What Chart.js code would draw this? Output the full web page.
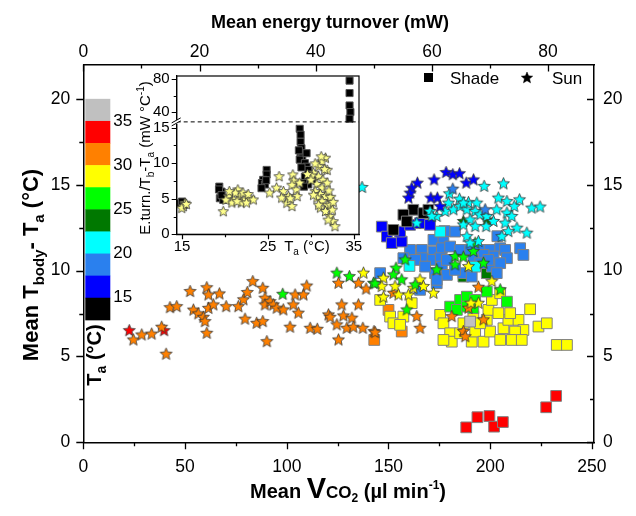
<!DOCTYPE html>
<html>
<head>
<meta charset="utf-8">
<script src="https://cdn.jsdelivr.net/npm/chart.js@4.4.0/dist/chart.umd.min.js"></script>
<style>
  html, body { margin: 0; padding: 0; background: #fff; }
  #wrap { position: relative; width: 636px; height: 516px; }
  #wrap canvas { position: absolute; left: 0; top: 0; }
</style>
</head>
<body>
<div id="wrap">
  <canvas id="main" width="636" height="516"></canvas>
  <canvas id="inset" width="636" height="516"></canvas>
</div>
<script>
// ---------- DATA (x = mean VCO2, y = mean Tbody - Ta) ----------
const sunRed = [[22.6,6.5],[39.7,6.5]];
const sunOrange = [[24.6,5.96],[28.7,6.25],[33.6,6.3],[38.5,6.7],[40.7,5.13],[42.6,7.84],[45.9,7.9],[52.5,8.78],[54.1,7.7],[56.5,7.48],
  [59,7.28],[59.8,7.03],[60.7,9.0],[61.5,8.58],[61.5,7.8],[60.7,6.35],[63.9,8.0],[66.9,8.64],[70.2,7.9],[76.2,7.9],[79.5,7.17],
  [78.7,8.3],[80.6,8.72],[83.3,9.36],[88.2,8.97],[85.2,6.93],[88.2,7.03],[89.3,8.39],[89.3,8.0],[90.2,5.86],[91.8,8.19],[93.4,8.0],
  [95.1,7.81],[98.3,7.71],[101.6,6.7],[103.2,8.0],[104.1,8.58],[105.7,7.52],[108.2,8.58],[109.8,9.1],[111.5,6.64],[115,6.58],
  [120.5,7.42],[121.3,7.28],[125.4,9.26],[124.6,6.84],[125.4,5.96],[127,8.0],[127.8,7.36],[129.5,6.64],[132,7.23],[132.7,6.7],
  [135.2,9.26],[135.2,8.0],[137.4,6.64],[139,8.92],[142.9,6.45],[152.4,8.68],[194.2,9.03],[189.3,7.81],[181.1,7.32],[163.9,7.32],
  [165.5,6.64],[196.7,7.13],[186.8,6.45],[187.7,6.15],[143.4,6.39]];
const sunYellow = [[137.7,9.85],[147.5,9.56],[146.7,9.07],[153.2,9.07],[154.9,8.58],[159.8,8.58],[165.5,9.46],[167.2,9.07],
  [147.5,8.45],[172.1,8.68],[189.3,10.23],[200.8,9.36],[194.2,8.1],[162.2,8.97],[190.5,8.1]];
const sunGreen = [[98,8.62],[124.6,9.85],[130.8,9.65],[142.6,9.26],[158.2,10.62],[153.7,10.14],[152.4,9.75],[156.5,9.46],
  [143.4,9.23],[173.7,10.04],[182.7,10.82],[186.8,10.78],[191.7,11.11],[192.6,11.6],[182.7,10.33],[196.7,10.43],[204.9,8.88],
  [159,7.71],[163.1,9.17]];
const sunDkGreen = [[186.8,12.86],[198.3,12.95]];
const sunCyan = [[137,14.84],[179.9,14.47],[179.5,13.93],[184.9,14.16],[189.3,13.96],[193.4,13.93],[197,14.9],[206.5,15.05],
  [208.2,14.02],[204,14.22],[214.4,14.12],[211.8,13.73],[220.4,13.64],[224.5,13.7],[170.4,13.44],[173.7,13.15],[177.8,13.44],
  [181.9,13.54],[185.2,13.73],[188.5,13.54],[192.6,13.44],[195,13.25],[198.3,13.15],[201.6,12.86],[203.2,13.54],[208.2,13.35],
  [210.6,13.15],[207.3,12.76],[213.1,12.47],[218,12.18],[208.9,12.27],[205.7,11.98],[190.1,12.95],[192.6,12.56],[198,12.56],
  [186.8,12.66],[188.5,11.98],[194.2,11.69],[190.1,11.6],[163.9,12.76],[171.3,13.15],[186.8,13.93]];
const sunLtBlue = [[181.6,14.74],[197.5,13.54]];
const sunBlue = [[178.3,15.71],[181.6,15.58],[184.9,15.64],[188.2,15.09],[191.8,15.28],[172.4,15.28],[164.2,15.09],[161.4,14.8],
  [160.6,14.51],[159.8,14.22],[170.8,14.22],[174,14.22],[175.4,13.73]];

const shadeBlack = [[162.2,13.54],[157.3,13.25],[159,12.86],[152.4,12.37],[167.2,13.35],[169.6,13.54]];
const shadeBlue = [[146.7,12.56],[149.2,11.98],[151.6,11.6],[156.5,11.69],[155.7,12.27],[160.6,12.66],[165.5,12.76],[170.4,12.66]];
const shadeLtBlue = [[160.6,11.2],[166.4,11.2],[157.3,10.72],[145.9,9.85],[172.1,11.79],[177,11.79],[182.7,12.27],[172.1,11.11],
  [176.2,11.3],[180.3,11.4],[185.2,11.2],[190.1,11.2],[195,11.2],[199.9,11.2],[204.9,11.3],[207.3,11.2],[214.7,11.3],[216.3,10.91],
  [208.2,10.72],[201.6,10.82],[196.7,10.91],[175.4,10.72],[170.4,10.62],[176.2,10.23],[172.9,9.85],[173.7,9.26],[178.7,9.75],
  [186.8,9.85],[190.9,9.65],[182.7,10.04],[200.8,10.23],[199.1,10.62],[204.9,10.43],[191.7,10.62],[166.4,10.72],[163.1,10.62],
  [168,10.23],[178.7,10.62],[195,10.43],[203.2,9.85],[173.7,9.46],[165.5,8.88],[203.5,12.0],[177.5,12.3]];
const shadeCyan = [[175.4,12.27],[160.3,10.27],[192.6,10.23]];
const shadeDkGreen = [[198.3,9.85],[186.8,9.65]];
const shadeGreen = [[180.3,7.9],[185.2,8.29],[188.5,8.48],[183.6,7.71],[188.5,7.9],[191.7,7.81],[192.6,8.29],[208.2,8.19],[198.3,8.78]];
const shadeYellow = [[145.9,8.29],[150.8,7.32],[152.4,6.93],[157.3,7.32],[161.4,8.1],[155.7,6.84],[175.4,7.42],[177,6.93],
  [180.3,6.35],[181.1,5.86],[185.2,6.35],[190.9,5.86],[192.6,6.45],[196.7,5.86],[198.3,7.13],[199.1,7.71],[200.8,8.29],
  [199.9,6.45],[204.9,5.96],[206.5,6.64],[208.9,7.13],[213.9,7.13],[216.3,6.54],[212.2,6.45],[210.6,5.96],[215.5,5.96],
  [219.6,7.75],[223.7,6.74],[227.8,6.93],[232.7,5.67],[237.7,5.67],[204,7.52],[204.9,8.68],[191.7,7.32],[186.8,6.93],
  [195,6.93],[209.8,7.52],[177,5.96]];
const shadeOrange = [[150,7.71],[156.5,6.45],[143,5.96]];
const shadeRed = [[188.2,0.87],[193.7,1.46],[199.6,1.53],[201.9,0.91],[206.2,1.18],[227.5,2.04],[232.4,2.7]];
const shadeGray = [[190.1,7.03]];

// inset: x = Ta (°C), y = E.turn./(Tb-Ta)
const insetShade = [[14.8,4.37],[15.0,4.6],[15.2,4.1],
  [19.34,6.7],[19.6,6.0],[19.4,5.07],[19.8,4.83],[19.3,6.3],[19.6,5.5],
  [24.85,9.05],[24.85,8.4],[24.45,7.65],[24.3,7.2],[24.65,7.0],[24.25,6.48],[24.8,7.6],
  [28.7,14.83],[28.8,14.0],[28.8,13.0],[28.9,12.1],[28.8,11.2],[29.0,10.8],[28.7,10.5],[29.3,10.0],[29.5,9.5],[29.7,9.05],
  [29.9,8.4],[29.3,8.1],[30.1,7.65],[29.7,7.0],[29.1,7.2],[29.2,6.7],[28.9,9.4],[29.5,11.4],[28.6,11.8],
  [34.5,78],[34.5,63],[34.5,48],[34.6,40],[34.5,32]];
const insetSun = [[15.35,4.37],[15.15,3.9],[14.97,3.66],[15.5,4.2],
  [19.8,3.18],[20.4,5.3],[21,4.83],[21.5,6.24],[21.7,5.3],[22.3,4.83],[22.9,5.07],[21.2,5.8],[21.9,4.4],[20.8,4.4],[21.4,4.6],
  [22.5,4.4],[22.1,5.8],[22.7,5.6],[23.3,4.83],[20.1,4.8],[20.5,6.0],
  [26.3,8.1],[25.2,5.8],[26.0,6.5],[26.8,6.0],[27.4,5.3],[27.2,4.37],[27.8,3.9],[27.9,8.35],[28,7.5],[27.8,6.9],[28.3,6.24],
  [28.4,5.3],[26.6,5.1],[27.6,5.0],[28.7,7.2],
  [31.7,10.7],[31.3,10.2],[30.9,9.5],[31.9,9.0],[30.3,8.6],[30.9,8.1],[31.4,7.6],[30.7,7.0],[31.3,6.5],[31.9,7.2],[30.5,6.0],
  [31.1,5.6],[31.7,5.3],[30.7,5.1],[31.3,4.6],[31.9,4.1],[31.1,3.7],[31.7,3.2],[32.2,2.5],[32.6,1.78],[32.0,2.0],[32.8,1.07],
  [32.3,4.1],[32.5,3.4],[30.1,8.2],[29.6,8.4],[30.0,7.6],[30.5,9.9],[31.2,10.9],[31.6,9.1],[32.3,5.2],[32.6,4.5],[32.1,6.1],
  [30.3,5.5],[30.9,4.1]];

// ticks
const xTicks = [0, 50, 100, 150, 200, 250], xMinor = [25, 75, 125, 175, 225];
const x2Ticks = [0, 20, 40, 60, 80], x2Minor = [10, 30, 50, 70];
const yTicks = [0, 5, 10, 15, 20], yMinor = [2.5, 7.5, 12.5, 17.5];
const insetXTicks = [15, 25, 35], insetXMinor = [20, 30];
const insetYTicks = [0, 5, 10, 15, 40, 80], insetYMinor = [2.5, 7.5, 12.5, 60];

// colour bar (top to bottom) and its labels
const barColors = ['#c0c0c0','#ff0000','#ff8000','#ffff00','#00ff00','#007800','#00ffff','#2a80ee','#0000ff','#000000'];
const barLabels = ['35', '30', '25', '20', '15'];

const C = { black:'#000000', blue:'#0000ff', ltblue:'#2a80ee', cyan:'#00ffff', dkgreen:'#007800',
            green:'#00ff00', yellow:'#ffff00', orange:'#ff8000', red:'#ff0000', gray:'#c0c0c0' };
const FONT = '"Liberation Sans", Arial, sans-serif';

// ---------- helpers ----------
function starImg(fill, r, stroke, lw) {
  const c = document.createElement('canvas');
  const s = Math.ceil(2 * r + 2);
  c.width = c.height = s;
  const g = c.getContext('2d');
  g.beginPath();
  for (let i = 0; i < 10; i++) {
    const rr = i % 2 ? r * 0.45 : r;
    const a = -Math.PI / 2 + i * Math.PI / 5;
    g.lineTo(s / 2 + rr * Math.cos(a), s / 2 + rr * Math.sin(a));
  }
  g.closePath();
  g.fillStyle = fill; g.fill();
  g.lineWidth = lw; g.strokeStyle = stroke; g.stroke();
  return c;
}
const pts = arr => arr.map(p => ({ x: p[0], y: p[1] }));

// rich text: parts = [text, size, dy, bold]
function rich(ctx, parts, x, y, rot) {
  ctx.save();
  ctx.translate(x, y); ctx.rotate(rot || 0);
  ctx.textAlign = 'left'; ctx.textBaseline = 'alphabetic'; ctx.fillStyle = '#000';
  let w = 0;
  const ws = parts.map(p => { ctx.font = (p[3] ? 'bold ' : '') + p[1] + 'px ' + FONT; const m = ctx.measureText(p[0]).width; w += m; return m; });
  let cx = -w / 2;
  parts.forEach((p, i) => { ctx.font = (p[3] ? 'bold ' : '') + p[1] + 'px ' + FONT; ctx.fillText(p[0], cx, p[2]); cx += ws[i]; });
  ctx.restore();
}
function tickLines(ctx, scale, vals, len, side) {
  ctx.beginPath();
  vals.forEach(v => {
    const p = Math.round(scale.getPixelForValue(v)) + 0.5;
    if (side === 'bottom') { ctx.moveTo(p, scale.top); ctx.lineTo(p, scale.top + len); }
    if (side === 'top') { ctx.moveTo(p, scale.bottom); ctx.lineTo(p, scale.bottom + len); }
    if (side === 'left') { ctx.moveTo(scale.right - len, p); ctx.lineTo(scale.right, p); }
    if (side === 'right') { ctx.moveTo(scale.left - len, p); ctx.lineTo(scale.left, p); }
  });
  ctx.stroke();
}

// ---------- MAIN CHART ----------
const sunSets = [
  [sunBlue, C.blue], [sunLtBlue, C.ltblue], [sunCyan, C.cyan], [sunDkGreen, C.dkgreen], [sunGreen, C.green],
  [sunYellow, C.yellow], [sunOrange, C.orange], [sunRed, C.red]
].map(([d, col]) => ({ data: pts(d), pointStyle: starImg(col, 6.3, '#333', 0.8), pointRadius: 6 }));
const shadeSets = [
  [shadeBlack, C.black], [shadeBlue, C.blue], [shadeCyan, C.cyan], [shadeLtBlue, C.ltblue], [shadeDkGreen, C.dkgreen],
  [shadeGreen, C.green], [shadeGray, C.gray], [shadeYellow, C.yellow], [shadeOrange, C.orange], [shadeRed, C.red]
].map(([d, col]) => ({ data: pts(d), pointStyle: 'rect', pointRadius: 7.6, backgroundColor: col, borderColor: '#808080', borderWidth: 1 }));

const tickFont = { family: FONT, size: 17.5 };
const noGrid = { display: false, drawTicks: false };
const frame = { display: true, color: '#000', width: 1.5 };

const mainDecor = {
  id: 'mainDecor',
  afterDraw(chart) {
    const ctx = chart.ctx, s = chart.scales, a = chart.chartArea;
    ctx.save();
    ctx.strokeStyle = '#000'; ctx.lineWidth = 1.3;
    tickLines(ctx, s.x, xTicks, 7, 'bottom'); tickLines(ctx, s.x, xMinor, 4, 'bottom');
    tickLines(ctx, s.y, yTicks, 7, 'left'); tickLines(ctx, s.y, yMinor, 4, 'left');
    tickLines(ctx, s.x2, x2Ticks, 7, 'top'); tickLines(ctx, s.x2, x2Minor, 4, 'top');
    tickLines(ctx, s.y2, yTicks, 7, 'right'); tickLines(ctx, s.y2, yMinor, 4, 'right');

    // colour bar
    const top = s.y.getPixelForValue(20), bh = 22.1, bx = a.left + 2;
    barColors.forEach((c, i) => { ctx.fillStyle = c; ctx.fillRect(bx, top + i * bh, 25, bh + 0.5); });
    ctx.fillStyle = '#000'; ctx.font = '17px ' + FONT; ctx.textAlign = 'left'; ctx.textBaseline = 'middle';
    barLabels.forEach((t, i) => ctx.fillText(t, bx + 28, top + (2 * i + 1) * bh));
    rich(ctx, [['T', 20, 0, 1], ['a', 14, 5, 1], [' (°C)', 20, 0, 1]], 101, 355, -Math.PI / 2);

    // legend
    ctx.fillStyle = '#000'; ctx.fillRect(424, 73, 9, 9);
    ctx.drawImage(starImg('#000', 6, '#000', 0.5), 520, 71);
    ctx.font = '17px ' + FONT; ctx.textBaseline = 'middle';
    ctx.fillText('Shade', 450, 79); ctx.fillText('Sun', 552, 79);

    // axis titles
    rich(ctx, [['Mean energy turnover (mW)', 18, 0, 1]], 330, 28);
    rich(ctx, [['Mean T', 22, 0, 1], ['body', 15, 6, 1], ['- T', 22, 0, 1], ['a', 15, 6, 1], [' (°C)', 22, 0, 1]], 38, 265, -Math.PI / 2);
    rich(ctx, [['Mean ', 20, 0, 1], ['V', 29, 0, 1], ['CO', 17, 0, 1], ['2', 12, 4, 1], [' (µl min', 20, 0, 1], ['-1', 12, -9, 1], [')', 20, 0, 1]], 348, 498);
    ctx.restore();
  }
};

new Chart(document.getElementById('main'), {
  type: 'scatter',
  data: { datasets: [...sunSets, ...shadeSets] },
  options: {
    responsive: false, animation: false, events: [],
    layout: { padding: 0 },
    plugins: { legend: { display: false }, tooltip: { enabled: false } },
    scales: {
      x: { type: 'linear', position: 'bottom', min: 0, max: 251, grid: noGrid, border: frame,
           afterBuildTicks: sc => { sc.ticks = xTicks.map(v => ({ value: v })); },
           afterFit: sc => { sc.height = 73.7; },
           ticks: { font: tickFont, color: '#000', padding: 14, maxRotation: 0, autoSkip: false } },
      x2: { type: 'linear', position: 'top', min: 0, max: 87.9, grid: noGrid, border: frame,
           afterBuildTicks: sc => { sc.ticks = x2Ticks.map(v => ({ value: v })); },
           afterFit: sc => { sc.height = 64.5; },
           ticks: { font: tickFont, color: '#000', padding: 2, maxRotation: 0, autoSkip: false } },
      y: { type: 'linear', position: 'left', min: 0, max: 22, grid: noGrid, border: frame,
           afterBuildTicks: sc => { sc.ticks = yTicks.map(v => ({ value: v })); },
           afterFit: sc => { sc.width = 83.3; },
           ticks: { font: tickFont, color: '#000', padding: 13, autoSkip: false } },
      y2: { type: 'linear', position: 'right', min: 0, max: 22, grid: noGrid, border: frame,
           afterBuildTicks: sc => { sc.ticks = yTicks.map(v => ({ value: v })); },
           afterFit: sc => { sc.width = 42; },
           ticks: { font: tickFont, color: '#000', padding: 9, autoSkip: false } }
    }
  },
  plugins: [mainDecor]
});

// ---------- INSET (broken y axis) ----------
const BREAK = 15.8;
const brk = v => v <= BREAK ? v : 17.18 + (v - 40) * 0.11625;
const insetPts = arr => arr.map(p => ({ x: p[0], y: brk(p[1]) }));

const insetDecor = {
  id: 'insetDecor',
  beforeDraw(chart) {
    const a = chart.chartArea, ctx = chart.ctx;
    ctx.save(); ctx.fillStyle = '#fff'; ctx.fillRect(a.left, a.top, a.right - a.left, a.bottom - a.top); ctx.restore();
  },
  afterDraw(chart) {
    const ctx = chart.ctx, s = chart.scales, a = chart.chartArea;
    ctx.save();
    ctx.strokeStyle = '#000'; ctx.lineWidth = 1.2;
    ctx.strokeRect(a.left, a.top, a.right - a.left, a.bottom - a.top);
    tickLines(ctx, s.x, insetXTicks, 5, 'bottom'); tickLines(ctx, s.x, insetXMinor, 3, 'bottom');
    tickLines(ctx, s.y, insetYTicks.map(brk), 5, 'left'); tickLines(ctx, s.y, insetYMinor.map(brk), 3, 'left');
    // break line
    const by = s.y.getPixelForValue(BREAK);
    ctx.setLineDash([4, 3]); ctx.lineWidth = 1;
    ctx.beginPath(); ctx.moveTo(a.left, by); ctx.lineTo(a.right, by); ctx.stroke();
    ctx.setLineDash([]);
    ctx.fillStyle = '#fff'; ctx.fillRect(a.left - 2, by - 2, 4, 4);
    ctx.beginPath();
    ctx.moveTo(a.left - 5, by + 1); ctx.lineTo(a.left + 4, by - 4);
    ctx.moveTo(a.left - 5, by + 4); ctx.lineTo(a.left + 4, by - 1);
    ctx.stroke();
    // titles
    rich(ctx, [['T', 15, 0, 0], ['a', 10, 4, 0], [' (°C)', 15, 0, 0]], 307, 251);
    rich(ctx, [['E.turn./T', 15, 0, 0], ['b', 10, 4, 0], ['-T', 15, 0, 0], ['a', 10, 4, 0], [' (mW °C', 15, 0, 0], ['-1', 10, -6, 0], [')', 15, 0, 0]], 150, 158, -Math.PI / 2);
    ctx.restore();
  }
};

const insetFont = { family: FONT, size: 15 };
new Chart(document.getElementById('inset'), {
  type: 'scatter',
  data: { datasets: [
    { data: insetPts(insetSun), pointStyle: starImg('#ffff8c', 5.5, '#333', 0.8), pointRadius: 5 },
    { data: insetPts(insetShade), pointStyle: 'rect', pointRadius: 5, backgroundColor: '#000', borderColor: '#555', borderWidth: 1 }
  ] },
  options: {
    responsive: false, animation: false, events: [],
    layout: { padding: { top: 76, right: 277 } },
    plugins: { legend: { display: false }, tooltip: { enabled: false } },
    scales: {
      x: { type: 'linear', min: 14.38, max: 35.6, grid: noGrid, border: { display: true, color: '#000', width: 1.2 },
           afterBuildTicks: sc => { sc.ticks = insetXTicks.map(v => ({ value: v })); },
           afterFit: sc => { sc.height = 281.7; },
           ticks: { font: insetFont, color: '#000', padding: 4, maxRotation: 0, autoSkip: false } },
      y: { type: 'linear', min: 0, max: 22.25, grid: noGrid, border: { display: true, color: '#000', width: 1.2 },
           afterBuildTicks: sc => { sc.ticks = insetYTicks.map(v => ({ value: brk(v) })); },
           afterFit: sc => { sc.width = 176.7; },
           ticks: { font: insetFont, color: '#000', padding: 7, autoSkip: false,
                    callback: (val, i) => String(insetYTicks[i]) } }
    }
  },
  plugins: [insetDecor]
});
</script>
</body>
</html>
